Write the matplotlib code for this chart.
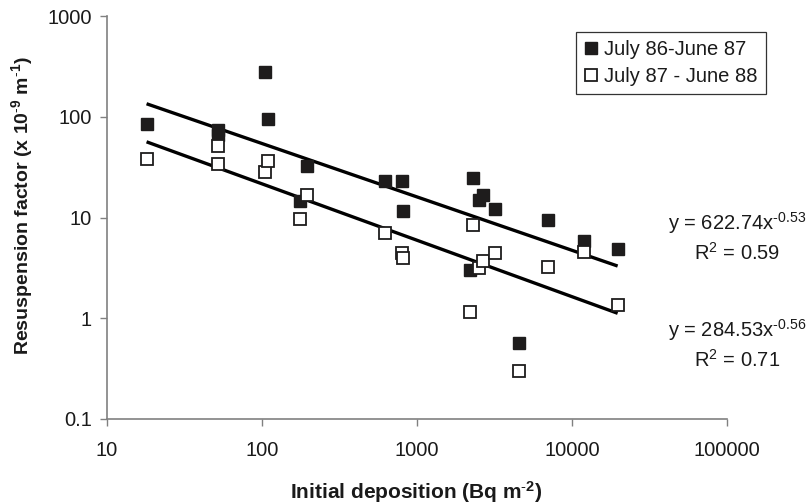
import matplotlib
matplotlib.use("Agg")
import matplotlib.pyplot as plt
from matplotlib.lines import Line2D
import numpy as np

plt.rcParams['font.family'] = ['Liberation Sans', 'DejaVu Sans']
plt.rcParams['mathtext.fontset'] = 'custom'
plt.rcParams['mathtext.rm'] = 'Liberation Sans'
plt.rcParams['mathtext.it'] = 'Liberation Sans:italic'
plt.rcParams['mathtext.bf'] = 'Liberation Sans:bold'
plt.rcParams['mathtext.default'] = 'regular'

# initial deposition (Bq m-2), same sites for both periods
deposition = np.array([18, 52, 52, 104, 109, 175, 194, 619, 802, 818,
                       2190, 2300, 2500, 2680, 3190, 4570, 7050, 11900, 19700])
# resuspension factor (x 1e-9 m-1)
rf_86_87 = np.array([84, 74, 66, 277, 94, 14.5, 32.3, 22.9, 22.9, 11.5,
                     3.03, 24.7, 14.8, 16.9, 12.1, 0.57, 9.5, 5.8, 4.83])
rf_87_88 = np.array([38.5, 51.4, 33.8, 28.3, 36.2, 9.6, 16.9, 7.0, 4.48, 3.95,
                     1.16, 8.5, 3.15, 3.67, 4.48, 0.30, 3.22, 4.54, 1.35])

# power-law fits as given on the chart
fit_86 = (622.74, -0.53, 0.59)
fit_87 = (284.53, -0.56, 0.71)

x_ticks = [10, 100, 1000, 10000, 100000]
x_ticklabels = ["10", "100", "1000", "10000", "100000"]
y_ticks = [0.1, 1, 10, 100, 1000]
y_ticklabels = ["0.1", "1", "10", "100", "1000"]

FS = 14.5
TXT = '#1a1a1a'
W, H = 811, 504
fig = plt.figure(figsize=(W / 100, H / 100), dpi=100)
ax = fig.add_axes([107 / W, 1 - 419 / H, (727 - 107) / W, (419 - 16) / H])
ax.set_xscale('log')
ax.set_yscale('log')
ax.set_xlim(10, 100000)
ax.set_ylim(0.1, 1000)

# trend lines
xf = np.geomspace(deposition.min(), deposition.max(), 50)
for a, b, _ in (fit_86, fit_87):
    ax.plot(xf, a * xf ** b, color='black', lw=2.4, zorder=2,
            solid_capstyle='butt')

ax.plot(deposition, rf_86_87, ls='none', marker='s', ms=8.5, mfc='#1e1c1c',
        mec='#1e1c1c', mew=1.0, zorder=3)
ax.plot(deposition, rf_87_88, ls='none', marker='s', ms=8.5, mfc='white',
        mec='#1e1c1c', mew=1.3, zorder=4)

ax.set_xticks(x_ticks)
ax.set_xticklabels(x_ticklabels)
ax.set_yticks(y_ticks)
ax.set_yticklabels(y_ticklabels)
ax.minorticks_off()
ax.tick_params(axis='both', direction='out', length=5, width=1, color='#808080',
               labelsize=FS, labelcolor=TXT, pad=6)
ax.tick_params(axis='x', pad=11)
for s in ('top', 'right'):
    ax.spines[s].set_visible(False)
for s in ('left', 'bottom'):
    ax.spines[s].set_color('#808080')
    ax.spines[s].set_linewidth(1.2)

fig.text(416 / W, 1 - 492 / H, r"Initial deposition (Bq m$^{\mathbf{\text{-}2}}$)",
         ha='center', va='center', fontsize=FS + 0.5, fontweight='bold', color=TXT)
fig.text(22 / W, 1 - 206 / H,
         r"Resuspension factor (x 10$^{\mathbf{\text{-}9}}$ m$^{\mathbf{\text{-}1}}$)",
         ha='center', va='center', rotation=90, fontsize=FS - 0.5,
         fontweight='bold', color=TXT)

# equations
eq_x = 737 / W
for (a, b, r2), y1, y2 in ((fit_86, 223, 253), (fit_87, 330, 360)):
    fig.text(eq_x, 1 - y1 / H, f"y = {a:.2f}x$^{{\\text{{{b:.2f}}}}}$",
             ha='center', va='center', fontsize=FS, color=TXT)
    fig.text(eq_x, 1 - y2 / H, f"R$^{{2}}$ = {r2:.2f}", ha='center',
             va='center', fontsize=FS, color=TXT)

handles = [
    Line2D([], [], ls='none', marker='s', ms=8.5, mfc='#1e1c1c', mec='#1e1c1c'),
    Line2D([], [], ls='none', marker='s', ms=8.5, mfc='white', mec='#1e1c1c', mew=1.3),
]
leg = fig.legend(handles, ["July 86-June 87", "July 87 - June 88"],
                 loc='upper left', bbox_to_anchor=(576 / W, 1 - 32 / H),
                 fontsize=FS, frameon=True, fancybox=False, borderaxespad=0,
                 handlelength=0.7, handletextpad=0.3, borderpad=0.4,
                 labelspacing=0.4)
leg.get_frame().set_edgecolor('black')
leg.get_frame().set_linewidth(0.9)
for t in leg.get_texts():
    t.set_color(TXT)

fig.savefig("out.png", dpi=100)
